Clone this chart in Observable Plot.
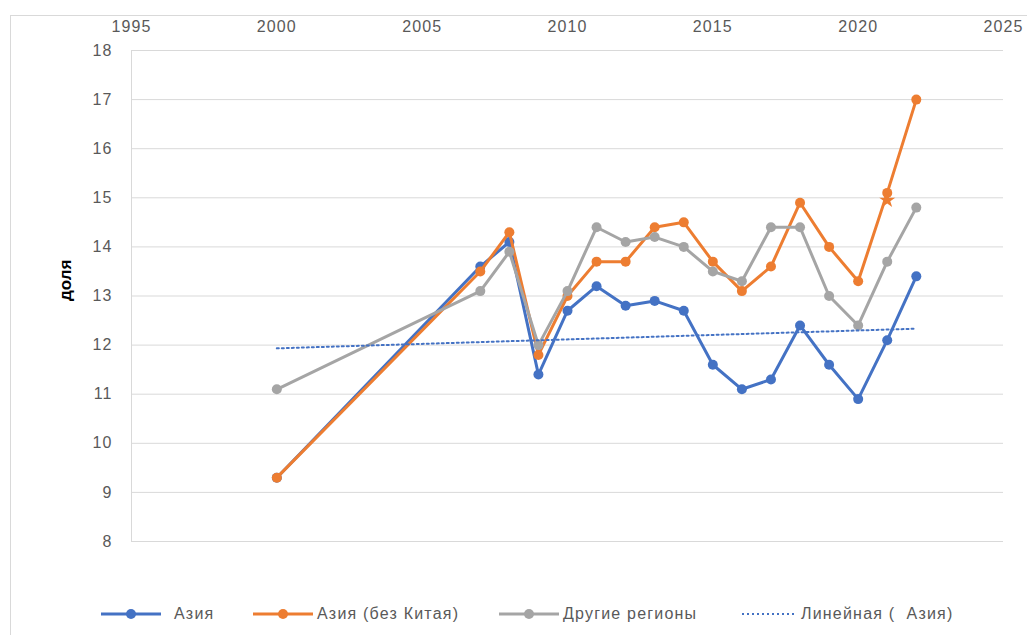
<!DOCTYPE html>
<html>
<head>
<meta charset="utf-8">
<script src="https://cdn.jsdelivr.net/npm/d3@7"></script>
<script src="https://cdn.jsdelivr.net/npm/@observablehq/plot@0.6"></script>
<style>
  html, body { margin: 0; padding: 0; background: #fff; overflow: hidden; width: 1027px; height: 635px; }
  body { position: relative; font-family: "Liberation Sans", Arial, sans-serif; }
  #frame { position: absolute; left: 10px; top: 15px; width: 1100px; height: 700px;
           border-left: 1px solid #d9d9d9; border-top: 1px solid #d9d9d9; }
  #chart { position: absolute; left: 0; top: 0; }
  #legend { position: absolute; left: 0; top: 603px; width: 1027px; height: 22px; }
  .item { position: absolute; top: 0; height: 22px; display: flex; align-items: center; }
  .item span { font-size: 16px; color: #595959; letter-spacing: 1.2px; white-space: pre; }
</style>
</head>
<body>
<div id="frame"></div>
<div id="chart"></div>
<div id="legend"></div>
<script>
const years = [2000, 2007, 2008, 2009, 2010, 2011, 2012, 2013, 2014, 2015, 2016, 2017, 2018, 2019, 2020, 2021, 2022];
const asia        = [9.3, 13.6, 14.1, 11.4, 12.7, 13.2, 12.8, 12.9, 12.7, 11.6, 11.1, 11.3, 12.4, 11.6, 10.9, 12.1, 13.4];
const asiaExChina = [9.3, 13.5, 14.3, 11.8, 13.0, 13.7, 13.7, 14.4, 14.5, 13.7, 13.1, 13.6, 14.9, 14.0, 13.3, 15.1, 17.0];
const otherRegions= [11.1, 13.1, 13.9, 12.0, 13.1, 14.4, 14.1, 14.2, 14.0, 13.5, 13.3, 14.4, 14.4, 13.0, 12.4, 13.7, 14.8];
const seriesNames = ["Азия", "Азия (без Китая)", "Другие регионы"];
const seriesColors = ["#4472C4", "#ED7D31", "#A5A5A5"];
const trendName = "Линейная (  Азия)";
const starYears = [2021];
const starValues = [14.95];
const xTicks = [1995, 2000, 2005, 2010, 2015, 2020, 2025];
const yTicks = [8, 9, 10, 11, 12, 13, 14, 15, 16, 17, 18];
const yLabel = "доля";

const seriesValues = [asia, asiaExChina, otherRegions];
const rows = seriesNames.flatMap((s, i) => years.map((yr, j) => ({series: s, year: yr, value: seriesValues[i][j]})));
const starRows = starYears.map((yr, i) => ({series: seriesNames[1], year: yr, value: starValues[i]}));

const seriesMarks = seriesNames.flatMap((s) => {
  const d = rows.filter(r => r.series === s);
  return [
    Plot.line(d, {x: "year", y: "value", stroke: "series", strokeWidth: 3}),
    Plot.dot(d, {x: "year", y: "value", fill: "series", r: 5})
  ];
});

const chart = Plot.plot({
  width: 1027,
  height: 575,
  marginLeft: 131,
  marginRight: 24,
  marginTop: 50,
  marginBottom: 34,
  style: {fontFamily: "'Liberation Sans', Arial, sans-serif", background: "transparent"},
  x: {domain: [1995, 2025]},
  y: {domain: [8, 18]},
  color: {domain: seriesNames, range: seriesColors},
  marks: [
    Plot.gridY(yTicks, {stroke: "#d9d9d9", strokeOpacity: 1, strokeWidth: 1}),
    Plot.ruleX([1995], {stroke: "#d9d9d9", strokeWidth: 1}),
    Plot.axisX({anchor: "top", ticks: xTicks, tickFormat: d => String(d), tickSize: 0, tickPadding: 19, label: null, fontSize: 16, fill: "#595959"}),
    Plot.axisY({ticks: yTicks, tickSize: 0, tickPadding: 19, label: null, fontSize: 16, fill: "#595959"}),
    Plot.text([yLabel], {frameAnchor: "left", dx: -66, dy: 5, rotate: -90, fontWeight: "bold", fontSize: 17, fill: "#000"}),
    ...seriesMarks,
    Plot.dot(starRows, {x: "year", y: "value", fill: "series", symbol: "star", r: 5}),
    Plot.linearRegressionY(rows.filter(r => r.series === seriesNames[0]), {x: "year", y: "value", stroke: seriesColors[0], strokeWidth: 2, strokeDasharray: "2,3", ci: 0})
  ]
});
chart.querySelectorAll("g[aria-label='x-axis tick label'] text, g[aria-label='y-axis tick label'] text").forEach(t => t.style.letterSpacing = "1.1px");
document.getElementById("chart").appendChild(chart);

// legend
const legendItems = [
  {name: seriesNames[0], color: seriesColors[0], left: 100, dash: null},
  {name: seriesNames[1], color: seriesColors[1], left: 252, dash: null},
  {name: seriesNames[2], color: seriesColors[2], left: 498, dash: null},
  {name: trendName, color: seriesColors[0], left: 741, dash: "2,3"}
];
const legend = document.getElementById("legend");
legendItems.forEach(it => {
  const div = document.createElement("div");
  div.className = "item";
  div.style.left = it.left + "px";
  const w = it.dash ? 56 : 62;
  const svg = d3.create("svg").attr("width", w).attr("height", 22);
  svg.append("line").attr("x1", 1).attr("x2", w - 1).attr("y1", 11).attr("y2", 11)
    .attr("stroke", it.color).attr("stroke-width", it.dash ? 2 : 3)
    .attr("stroke-dasharray", it.dash);
  if (!it.dash) svg.append("circle").attr("cx", w / 2).attr("cy", 11).attr("r", 5).attr("fill", it.color);
  div.appendChild(svg.node());
  const sp = document.createElement("span");
  sp.textContent = it.name;
  sp.style.marginLeft = it.dash ? "4px" : (it.left === 100 ? "12px" : "3px");
  div.appendChild(sp);
  legend.appendChild(div);
});
</script>
</body>
</html>
